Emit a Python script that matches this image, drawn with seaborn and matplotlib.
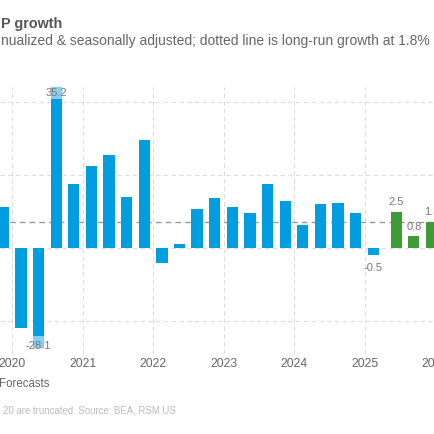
import numpy as np
import pandas as pd
import matplotlib
matplotlib.use("Agg")
import matplotlib.pyplot as plt
import seaborn as sns

# ---------------- data ----------------
quarters = ["2019Q4",
            "2020Q1", "2020Q2", "2020Q3", "2020Q4",
            "2021Q1", "2021Q2", "2021Q3", "2021Q4",
            "2022Q1", "2022Q2", "2022Q3", "2022Q4",
            "2023Q1", "2023Q2", "2023Q3", "2023Q4",
            "2024Q1", "2024Q2", "2024Q3", "2024Q4",
            "2025Q1"]
actual = [2.8,
          -5.5, -28.1, 35.2, 4.4,
          5.6, 6.4, 3.5, 7.4,
          -1.0, 0.3, 2.7, 3.4,
          2.8, 2.4, 4.4, 3.2,
          1.6, 3.0, 3.1, 2.4,
          -0.5]
forecast_quarters = ["2025Q2", "2025Q3", "2025Q4"]
forecast = [2.5, 0.8, 1.8]
year_labels = ["2020", "2021", "2022", "2023", "2024", "2025", "2026"]
labelled_actual = ["2020Q2", "2020Q3", "2025Q1"]
long_run = 1.8
gridlines = [-5, 0, 5, 10]

# ---------------- style ----------------
BLUE = "#009ee0"
LIGHT_BLUE = "#86cff1"
GREEN = "#3e9b36"
W, H = 435, 435
DPI = 100
BAR_W = 0.64

sns.set_theme(style="white")
plt.rcParams["font.family"] = ["Liberation Sans", "DejaVu Sans"]

def qindex(q):
    y, k = int(q[:4]), int(q[-1])
    return (y - 2020) * 4 + (k - 1)

FC_OFFSET = 0.3
CAP_HI, CAP_LO = 11.03, -6.85
LIGHT_LEN = 0.85

df_a = pd.DataFrame({"pos": [float(qindex(q)) for q in quarters],
                     "growth": np.clip(actual, CAP_LO, CAP_HI)})
df_f = pd.DataFrame({"pos": [qindex(q) + FC_OFFSET for q in forecast_quarters],
                     "growth": forecast})

fig = plt.figure(figsize=(W / DPI, H / DPI), dpi=DPI)
fig.patch.set_facecolor("white")

def fy(px):
    return 1 - px / H

ax_top, ax_bot = 88, 355
ax = fig.add_axes([0, fy(ax_bot), 1, (ax_bot - ax_top) / H])

px_per_q = 17.93
x0_px = 21.3  # pixel of 2020Q1 centre

# grid
for g in gridlines:
    ax.axhline(g, color="#dcdcdc", lw=0.8, ls=(0, (4, 3)), zorder=0)
year_pos = [i * 4 - 0.5 for i in range(len(year_labels))]
for xp in year_pos:
    ax.axvline(xp, color="#dcdcdc", lw=0.8, ls=(0, (4, 3)), zorder=0)
ax.axhline(long_run, color="#9a9a9a", lw=1.0, ls=(0, (4, 3)), zorder=0.5)

sns.barplot(data=df_a, x="pos", y="growth", native_scale=True, color=BLUE,
            saturation=1, width=BAR_W, linewidth=0, edgecolor="none",
            ax=ax, zorder=2)
sns.barplot(data=df_f, x="pos", y="growth", native_scale=True, color=GREEN,
            saturation=1, width=BAR_W, linewidth=0, edgecolor="none",
            ax=ax, zorder=2)

LBL = dict(fontsize=8, color="#777777")
# lighter ends for truncated bars
for q, v in zip(quarters, actual):
    i = qindex(q)
    if v > CAP_HI:
        ax.bar(i, LIGHT_LEN, bottom=CAP_HI - LIGHT_LEN, width=BAR_W,
               color=LIGHT_BLUE, zorder=3, lw=0)
        ax.text(i, CAP_HI - LIGHT_LEN / 2 + 0.1, f"{v:.1f}", ha="center",
                va="center", zorder=4, **LBL)
    elif v < CAP_LO:
        ax.bar(i, -LIGHT_LEN, bottom=CAP_LO + LIGHT_LEN, width=BAR_W,
               color=LIGHT_BLUE, zorder=3, lw=0)
        ax.text(i, CAP_LO + LIGHT_LEN / 2 - 0.2, f"{v:.1f}", ha="center",
                va="center", zorder=4, **LBL)
    elif q in labelled_actual:
        off = 7.5 if v >= 0 else -8.5
        ax.annotate(f"{v:.1f}", (i, v), xytext=(0, off), textcoords="offset points",
                    ha="center", va="center", **LBL)

for q, v in zip(forecast_quarters, forecast):
    ax.annotate(f"{v:.1f}", (qindex(q) + FC_OFFSET, v), xytext=(0, 7.5),
                textcoords="offset points", ha="center", va="center", **LBL)

ax.set_xlim(-x0_px / px_per_q, (W - x0_px) / px_per_q)
ax.set_ylim(-7.26, 11.03)
ax.set_xticks(year_pos, year_labels)
ax.set_yticks([])
ax.tick_params(axis="x", length=0, pad=2, labelsize=8.7, labelcolor="#666666")
ax.set_xlabel("")
ax.set_ylabel("")
for s in ax.spines.values():
    s.set_visible(False)
ax.set_facecolor("none")

# texts
fig.text(62 / W, fy(28), "P growth", ha="right", va="baseline",
         fontsize=10.4, fontweight="bold", color="#555555")
fig.text(430 / W, fy(45.5), "nualized & seasonally adjusted; dotted line is long-run growth at 1.8%",
         ha="right", va="baseline", fontsize=10.0, color="#666666")
fig.text(49 / W, fy(387.5), "Forecasts", ha="right", va="baseline",
         fontsize=8.3, color="#666666")
fig.text(176 / W, fy(414), "20 are truncated. Source: BEA, RSM US", ha="right",
         va="baseline", fontsize=6.9, color="#bbbbbb")

fig.savefig("out.png", dpi=DPI, facecolor="white")
